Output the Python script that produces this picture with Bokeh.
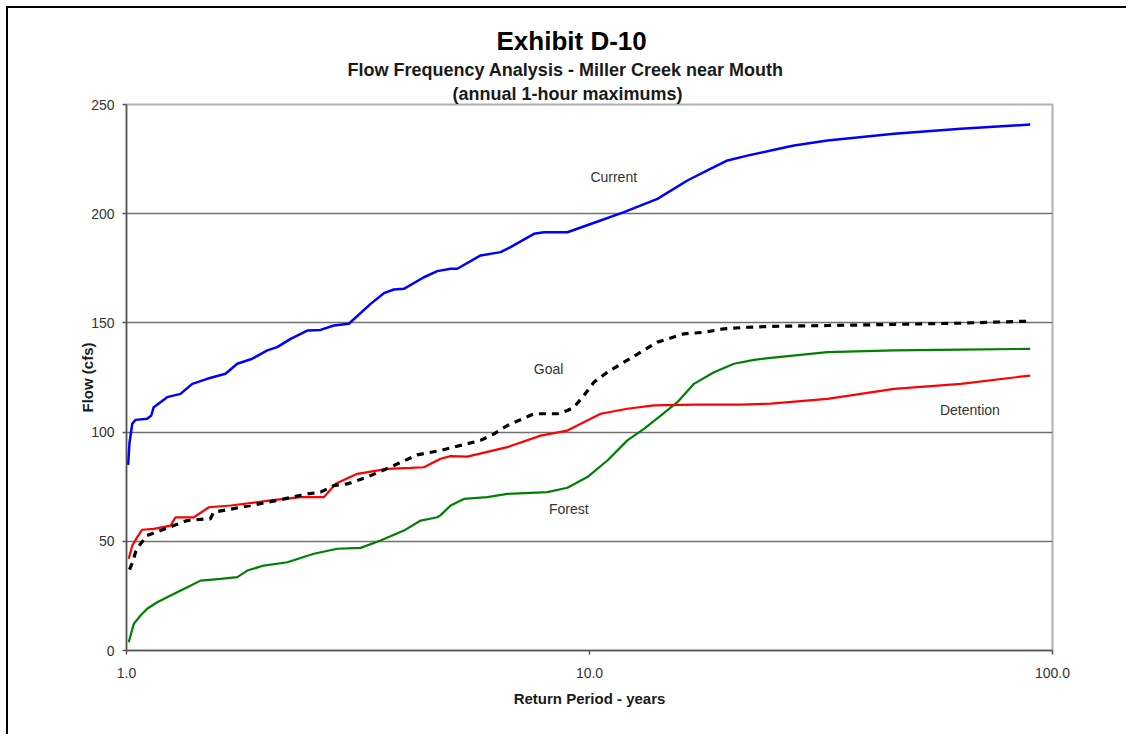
from bokeh.plotting import figure
from bokeh.models import FixedTicker, PrintfTickFormatter, Title, ColumnDataSource
from bokeh.core.properties import value
from bokeh.embed import file_html
from bokeh.resources import INLINE

FONT = "Liberation Sans"

# ---- data (return period in years, flow in cfs) ----
current_x = [1.008, 1.015, 1.029, 1.046, 1.108, 1.131, 1.145, 1.224, 1.308, 1.387, 1.494, 1.636,
             1.735, 1.869, 2.014, 2.116, 2.262, 2.457, 2.625, 2.804, 3.022, 3.367, 3.596, 3.780,
             3.973, 4.389, 4.691, 5.012, 5.182, 5.818, 6.427, 6.753, 7.586, 7.973, 8.959, 10.06,
             11.87, 14.02, 16.27, 17.97, 19.86, 21.93, 24.63, 27.65, 32.65, 45.48, 63.39, 89.5]
current_y = [85.0, 95.0, 103.8, 105.6, 106.1, 107.6, 111.4, 116.0, 117.5, 122.1, 124.4, 126.7,
             131.3, 133.6, 137.4, 138.9, 142.7, 146.5, 146.8, 148.8, 149.6, 158.7, 163.6, 165.3,
             165.6, 170.9, 173.7, 174.8, 174.8, 180.9, 182.4, 184.7, 190.8, 191.5, 191.5, 195.3,
             200.7, 206.8, 215.2, 219.8, 224.4, 226.6, 228.9, 231.2, 233.5, 236.6, 238.9, 240.8]

goal_x = [1.015, 1.029, 1.046, 1.072, 1.108, 1.184, 1.265, 1.353, 1.494, 1.518, 1.542, 1.853,
          2.116, 2.457, 2.625, 2.804, 2.998, 3.312, 3.780, 4.247, 4.769, 5.268, 5.818, 6.219,
          6.645, 7.586, 8.52, 8.959, 9.257, 9.728, 10.22, 10.93, 11.87, 12.9, 14.02, 16.0,
          17.68, 19.52, 21.93, 24.63, 32.65, 45.48, 63.39, 89.5]
goal_y = [37.0, 40.0, 45.0, 48.8, 52.7, 54.9, 57.2, 59.5, 60.3, 60.3, 63.3, 66.4,
          68.7, 71.7, 72.5, 75.5, 76.3, 79.4, 84.7, 89.6, 91.6, 93.9, 96.2, 99.2,
          103.0, 108.4, 108.4, 109.9, 111.4, 116.8, 122.8, 127.4, 132.0, 136.6, 141.2, 145.0,
          145.7, 147.3, 148.0, 148.4, 148.8, 149.3, 149.9, 150.8]

detention_x = [1.011, 1.029, 1.055, 1.081, 1.145, 1.245, 1.276, 1.398, 1.506, 1.678, 2.047, 2.377,
               2.668, 2.828, 3.151, 3.659, 4.108, 4.389, 4.769, 5.012, 5.446, 6.645, 7.844, 8.959,
               10.57, 12.07, 13.78, 16.81, 21.21, 24.63, 32.65, 45.48, 63.39, 89.5]
detention_y = [42.0, 48.0, 51.9, 55.3, 55.7, 57.2, 61.0, 61.0, 65.6, 66.4, 68.7, 70.2,
               70.2, 76.3, 80.9, 83.2, 83.6, 83.9, 87.8, 89.0, 88.8, 93.1, 98.4, 100.7,
               108.4, 110.7, 112.2, 112.6, 112.6, 113.0, 115.2, 119.8, 122.1, 125.9]

forest_x = [1.011, 1.037, 1.072, 1.108, 1.165, 1.245, 1.353, 1.445, 1.596, 1.735, 1.823, 1.980,
            2.225, 2.539, 2.853, 3.203, 3.538, 3.973, 4.318, 4.691, 4.769, 5.012, 5.355, 6.017,
            6.645, 8.11, 8.959, 9.893, 10.93, 12.07, 13.11, 14.25, 15.48, 16.81, 18.57, 20.52,
            22.66, 24.63, 32.65, 45.48, 63.39, 89.5]
forest_y = [3.8, 12.2, 16.0, 19.1, 22.1, 25.2, 29.0, 32.0, 32.8, 33.6, 36.6, 38.9,
            40.4, 44.3, 46.6, 47.0, 50.4, 54.9, 59.5, 61.0, 62.0, 66.4, 69.4, 70.2,
            71.7, 72.5, 74.5, 79.4, 87.0, 96.2, 101.5, 107.5, 113.7, 122.1, 127.4, 131.3,
            133.1, 134.0, 136.6, 137.4, 137.8, 138.1]

x_ticks = [1, 10, 100]
y_ticks = [0, 50, 100, 150, 200, 250]
grid_ticks = [50, 100, 150, 200]

label_text = ["Current", "Goal", "Detention", "Forest"]
label_x = [11.28, 8.16, 66.3, 9.02]
label_y = [216.6, 128.7, 110.3, 65.0]

# ---- figure ----
p = figure(width=1120, height=728, x_axis_type="log", x_range=(1, 100), y_range=(0, 250),
           output_backend="svg", toolbar_location=None,
           min_border_left=118, min_border_right=76, min_border_top=96, min_border_bottom=86)
p.styles = {"border-left": "2px solid black", "border-top": "2px solid black",
            "margin-left": "6px", "margin-top": "6px"}
p.background_fill_color = "white"
p.border_fill_color = "white"
p.outline_line_color = "#b0b0b0"
p.outline_line_width = 2

# titles (added nearest-to-plot first)
p.add_layout(Title(text="(annual 1-hour maximums)", align="left", offset=326,
                   text_font=FONT, text_font_size="18px", text_font_style="bold",
                   text_color="#1a1a1a", standoff=2), "above")
p.add_layout(Title(text="Flow Frequency Analysis - Miller Creek near Mouth", align="left", offset=221,
                   text_font=FONT, text_font_size="18px", text_font_style="bold",
                   text_color="#1a1a1a", standoff=2), "above")
p.add_layout(Title(text="Exhibit D-10", align="left", offset=370,
                   text_font=FONT, text_font_size="26px", text_font_style="bold",
                   text_color="black", standoff=2), "above")

# axes
p.xaxis.ticker = FixedTicker(ticks=x_ticks, minor_ticks=[])
p.xaxis.formatter = PrintfTickFormatter(format="%.1f")
p.yaxis.ticker = FixedTicker(ticks=y_ticks, minor_ticks=[])
for ax in (p.xaxis, p.yaxis):
    ax.axis_line_color = "#555555"
    ax.axis_line_width = 1.5
    ax.major_tick_line_color = "#555555"
    ax.major_tick_line_width = 1.5
    ax.major_tick_in = 0
    ax.major_tick_out = 4
    ax.minor_tick_line_color = None
    ax.major_label_text_font = FONT
    ax.major_label_text_font_size = "14px"
    ax.major_label_text_color = "#333333"
    ax.axis_label_text_font = FONT
    ax.axis_label_text_font_size = "15px"
    ax.axis_label_text_font_style = "bold"
    ax.axis_label_text_color = "#1a1a1a"

p.xaxis.axis_label = "Return Period - years"
p.xaxis.major_label_standoff = 13
p.xaxis.axis_label_standoff = 9
p.yaxis.axis_label = "Flow (cfs)"
p.yaxis.major_label_standoff = 8
p.yaxis.axis_label_standoff = -8

p.xgrid.grid_line_color = None
p.ygrid.ticker = FixedTicker(ticks=grid_ticks)
p.ygrid.grid_line_color = "#707070"
p.ygrid.grid_line_width = 1.5

# series
p.line(current_x, current_y, line_color="#0000ff", line_width=2.5)
p.line(forest_x, forest_y, line_color="#008000", line_width=2.2)
p.line(detention_x, detention_y, line_color="#ff0000", line_width=2.2)
p.line(goal_x, goal_y, line_color="black", line_width=3.2, line_dash="7 6")

src = ColumnDataSource(dict(x=label_x, y=label_y, t=label_text))
p.text(x="x", y="y", text="t", source=src, text_font=value(FONT), text_font_size="14px",
       text_color="#333333", text_align="center", text_baseline="middle")

open("out.html", "w").write(file_html(p, INLINE))
